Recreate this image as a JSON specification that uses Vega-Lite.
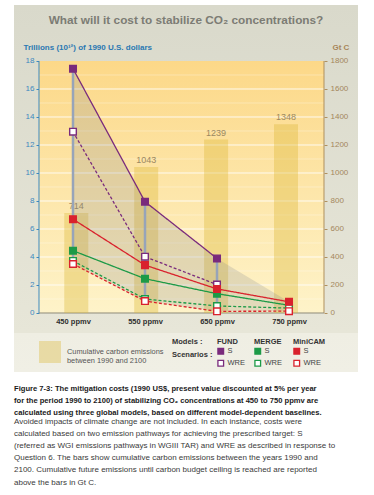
{
  "$schema": "https://vega.github.io/schema/vega-lite/v6.json",
  "padding": {"left": 14, "top": 5, "right": 16, "bottom": 2},
  "background": "#ffffff",
  "config": {"view": {"stroke": null}, "font": "Liberation Sans", "legend": {"padding": 0}},
  "title": {
    "text": [
      "Figure 7-3: The mitigation costs (1990 US$, present value discounted at 5% per year",
      "for the period 1990 to 2100) of stabilizing CO₂ concentrations at 450 to 750 ppmv are",
      "calculated using three global models, based on different model-dependent baselines."
    ],
    "subtitle": [
      "Avoided impacts of climate change are not included. In each instance, costs were",
      "calculated based on two emission pathways for achieving the prescribed target: S",
      "(referred as WGI emissions pathways in WGIII TAR) and WRE as described in response to",
      "Question 6. The bars show cumulative carbon emissions between the years 1990  and",
      "2100. Cumulative future emissions until carbon budget ceiling is reached are reported",
      "above the bars in Gt C."
    ],
    "orient": "bottom", "anchor": "start", "frame": "group", "offset": 13, "baseline": "top",
    "font": "Liberation Sans", "fontSize": 7.6, "fontWeight": "bold", "color": "#1a1a1a", "lineHeight": 12,
    "subtitleFont": "Liberation Sans", "subtitleFontSize": 8, "subtitleColor": "#3a3a3a", "subtitleLineHeight": 12.2, "subtitlePadding": 1
  },
  "spacing": 0,
  "vconcat": [
    {
      "width": 344,
      "height": 367,
      "view": {
        "stroke": null,
        "fill": {"gradient": "linear", "x1": 0, "y1": 0, "x2": 0, "y2": 1, "stops": [
          {"offset": 0, "color": "#d9d9cb"},
          {"offset": 0.893, "color": "#e7e6d8"},
          {"offset": 0.895, "color": "#efeee3"},
          {"offset": 1, "color": "#f0efe5"}
        ]}
      },
      "title": {
        "text": "What will it cost to stabilize CO₂ concentrations?",
        "anchor": "middle", "frame": "group", "offset": -27, "baseline": "middle",
        "font": "Liberation Sans", "fontSize": 11.8, "fontWeight": "bold", "color": "#7c7c74"
      },
      "resolve": {"scale": {"x": "independent", "y": "independent", "fill": "independent"}},
      "layer": [
        {
          "layer": [
            {
              "data": {"values": [{}]},
              "mark": {"type": "rect", "fill": {"gradient": "linear", "x1": 0, "y1": 0, "x2": 0, "y2": 1, "stops": [{"offset": 0, "color": "#fcd888"}, {"offset": 1, "color": "#fef3c9"}]}},
              "encoding": {
                "x": {"datum": 402.8, "type": "quantitative", "scale": {"domain": [368.06, 845.83], "nice": false, "zero": false}, "axis": null},
                "x2": {"datum": 798.6},
                "y": {"datum": 0, "type": "quantitative", "scale": {"domain": [-4.2143, 22], "nice": false, "zero": false}, "axis": null},
                "y2": {"datum": 18}
              }
            },
            {
              "data": {"values": [{"g": 1}, {"g": 3}, {"g": 5}, {"g": 7}, {"g": 9}, {"g": 11}, {"g": 13}, {"g": 15}, {"g": 17}]},
              "mark": {"type": "rule", "color": "#ffffff", "opacity": 0.3, "strokeWidth": 1},
              "encoding": {
                "x": {"datum": 402.8, "type": "quantitative", "scale": {"domain": [368.06, 845.83], "nice": false, "zero": false}, "axis": null},
                "x2": {"datum": 798.6},
                "y": {"field": "g", "type": "quantitative", "scale": {"domain": [-4.2143, 22], "nice": false, "zero": false}, "axis": null}
              }
            },
            {
              "data": {"values": [{"g": 2}, {"g": 4}, {"g": 6}, {"g": 8}, {"g": 10}, {"g": 12}, {"g": 14}, {"g": 16}]},
              "mark": {"type": "rule", "color": "#ffffff", "opacity": 0.85, "strokeWidth": 1},
              "encoding": {
                "x": {"datum": 402.8, "type": "quantitative", "scale": {"domain": [368.06, 845.83], "nice": false, "zero": false}, "axis": null},
                "x2": {"datum": 798.6},
                "y": {"field": "g", "type": "quantitative", "scale": {"domain": [-4.2143, 22], "nice": false, "zero": false}, "axis": null}
              }
            },
            {
              "data": {"values": [{}]},
              "mark": {"type": "rule", "color": "#3b88bf", "strokeWidth": 1},
              "encoding": {
                "x": {"datum": 402.8, "type": "quantitative", "scale": {"domain": [368.06, 845.83], "nice": false, "zero": false}, "axis": null},
                "y": {"datum": 0, "type": "quantitative", "scale": {"domain": [-4.2143, 22], "nice": false, "zero": false}, "axis": null},
                "y2": {"datum": 18}
              }
            },
            {
              "data": {"values": [{}]},
              "mark": {"type": "rule", "color": "#b0905e", "strokeWidth": 1},
              "encoding": {
                "x": {"datum": 798.6, "type": "quantitative", "scale": {"domain": [368.06, 845.83], "nice": false, "zero": false}, "axis": null},
                "y": {"datum": 0, "type": "quantitative", "scale": {"domain": [-4.2143, 22], "nice": false, "zero": false}, "axis": null},
                "y2": {"datum": 18}
              }
            },
            {
              "data": {"values": [{}]},
              "mark": {"type": "rule", "color": "#8e8a7a", "strokeWidth": 1},
              "encoding": {
                "x": {"datum": 402.8, "type": "quantitative", "scale": {"domain": [368.06, 845.83], "nice": false, "zero": false}, "axis": null},
                "x2": {"datum": 798.6},
                "y": {"datum": 0, "type": "quantitative", "scale": {"domain": [-4.2143, 22], "nice": false, "zero": false}, "axis": null}
              }
            }
          ]
        },
        {
          "data": {"values": [
            {"ppmv": 450, "gtc": 714},
            {"ppmv": 550, "gtc": 1043},
            {"ppmv": 650, "gtc": 1239},
            {"ppmv": 750, "gtc": 1348}
          ]},
          "encoding": {
            "x": {"field": "ppmv", "type": "quantitative", "scale": {"domain": [368.06, 845.83], "nice": false, "zero": false}, "axis": null},
            "y": {"field": "gtc", "type": "quantitative", "scale": {"domain": [-421.43, 2200], "nice": false, "zero": false},
              "axis": {"orient": "right", "values": [0, 200, 400, 600, 800, 1000, 1200, 1400, 1600, 1800], "format": "d", "offset": -34, "domain": false, "grid": false,
                "tickColor": "#b0905e", "tickSize": 3, "labelColor": "#a4875c", "labelFont": "Liberation Sans", "labelFontSize": 8, "labelPadding": 3,
                "title": "Gt C", "titleAngle": 0, "titleAlign": "left", "titleBaseline": "alphabetic", "titleX": 8, "titleY": 44,
                "titleFont": "Liberation Sans", "titleFontSize": 8, "titleFontWeight": "bold", "titleColor": "#a8865a"}}
          },
          "layer": [
            {
              "mark": {"type": "bar", "width": 24, "opacity": 0.36},
              "encoding": {
                "y2": {"datum": 0},
                "fill": {"datum": "Cumulative carbon emissions between 1990 and 2100", "type": "nominal", "scale": {"range": ["#dcb836"]},
                  "legend": {"orient": "none", "legendX": 25, "legendY": 336, "title": null, "symbolType": "square", "symbolSize": 484, "symbolOpacity": 0.36, "symbolStrokeWidth": 0,
                    "labelExpr": "['Cumulative carbon emissions', 'between 1990 and 2100']", "labelFont": "Liberation Sans", "labelFontSize": 7.4, "labelColor": "#555555", "labelOffset": 6, "labelLimit": 300,
                    "encode": {"labels": {"update": {"lineHeight": {"value": 8.5}}}}}}
              }
            },
            {
              "mark": {"type": "text", "dy": -2, "baseline": "bottom", "fontSize": 9, "color": "#9a8862", "font": "Liberation Sans"},
              "encoding": {"text": {"field": "gtc", "type": "quantitative", "format": "d"}}
            }
          ]
        },
        {
          "data": {"values": [
            {"model": "FUND", "scenario": "S", "ppmv": 450, "v": 17.45},
            {"model": "FUND", "scenario": "S", "ppmv": 550, "v": 7.95},
            {"model": "FUND", "scenario": "S", "ppmv": 650, "v": 3.9},
            {"model": "FUND", "scenario": "WRE", "ppmv": 450, "v": 12.95},
            {"model": "FUND", "scenario": "WRE", "ppmv": 550, "v": 4.02},
            {"model": "FUND", "scenario": "WRE", "ppmv": 650, "v": 2.03},
            {"model": "MERGE", "scenario": "S", "ppmv": 450, "v": 4.45},
            {"model": "MERGE", "scenario": "S", "ppmv": 550, "v": 2.45},
            {"model": "MERGE", "scenario": "S", "ppmv": 650, "v": 1.38},
            {"model": "MERGE", "scenario": "S", "ppmv": 750, "v": 0.55},
            {"model": "MERGE", "scenario": "WRE", "ppmv": 450, "v": 3.72},
            {"model": "MERGE", "scenario": "WRE", "ppmv": 550, "v": 1.0},
            {"model": "MERGE", "scenario": "WRE", "ppmv": 650, "v": 0.5},
            {"model": "MERGE", "scenario": "WRE", "ppmv": 750, "v": 0.35},
            {"model": "MiniCAM", "scenario": "S", "ppmv": 450, "v": 6.7},
            {"model": "MiniCAM", "scenario": "S", "ppmv": 550, "v": 3.42},
            {"model": "MiniCAM", "scenario": "S", "ppmv": 650, "v": 1.72},
            {"model": "MiniCAM", "scenario": "S", "ppmv": 750, "v": 0.8},
            {"model": "MiniCAM", "scenario": "WRE", "ppmv": 450, "v": 3.5},
            {"model": "MiniCAM", "scenario": "WRE", "ppmv": 550, "v": 0.85},
            {"model": "MiniCAM", "scenario": "WRE", "ppmv": 650, "v": 0.12},
            {"model": "MiniCAM", "scenario": "WRE", "ppmv": 750, "v": 0.13}
          ]},
          "encoding": {
            "x": {"field": "ppmv", "type": "quantitative", "scale": {"domain": [368.06, 845.83], "nice": false, "zero": false},
              "axis": {"orient": "bottom", "values": [450, 550, 650, 750], "labelExpr": "datum.value + ' ppmv'", "title": null, "ticks": false, "tickSize": 0, "domain": false, "grid": false,
                "offset": -59, "labelFont": "Liberation Sans", "labelFontWeight": "bold", "labelFontSize": 7.5, "labelColor": "#2e2e2e", "labelPadding": 4}},
            "y": {"field": "v", "type": "quantitative", "scale": {"domain": [-4.2143, 22], "nice": false, "zero": false},
              "axis": {"orient": "left", "values": [0, 2, 4, 6, 8, 10, 12, 14, 16, 18], "offset": -25, "domain": false, "grid": false,
                "tickColor": "#3b88bf", "tickSize": 3, "labelColor": "#3b88bf", "labelFont": "Liberation Sans", "labelFontSize": 8, "labelPadding": 2,
                "title": "Trillions (10¹²) of 1990 U.S. dollars", "titleAngle": 0, "titleAlign": "left", "titleBaseline": "alphabetic", "titleX": -16, "titleY": 44,
                "titleFont": "Liberation Sans", "titleFontSize": 8, "titleFontWeight": "bold", "titleColor": "#2a78b2"}}
          },
          "resolve": {"scale": {"fill": "independent"}},
          "layer": [
            {
              "transform": [{"aggregate": [{"op": "max", "field": "v", "as": "v"}, {"op": "min", "field": "v", "as": "lo"}], "groupby": ["ppmv"]}],
              "mark": {"type": "area", "opacity": 0.22, "interpolate": "linear"},
              "encoding": {
                "y2": {"field": "lo"},
                "fill": {"datum": "range", "type": "nominal", "scale": {"range": ["#80848c"]},
                  "legend": {"orient": "none", "legendX": 158, "legendY": 333, "title": ["Models :", "Scenarios :"], "titleFont": "Liberation Sans", "titleFontSize": 7.5,
                    "titleFontWeight": "bold", "titleColor": "#333333", "titleLineHeight": 13, "titlePadding": 0, "symbolOpacity": 0, "symbolSize": 1, "labelExpr": "''"}}
              }
            },
            {
              "transform": [{"aggregate": [{"op": "max", "field": "v", "as": "v"}, {"op": "min", "field": "v", "as": "lo"}], "groupby": ["ppmv"]}],
              "mark": {"type": "rule", "color": "#97a4b9", "strokeWidth": 2.5},
              "encoding": {"y2": {"field": "lo"}}
            },
            {
              "mark": {"type": "line", "strokeWidth": 1.3},
              "encoding": {
                "stroke": {"field": "model", "type": "nominal", "scale": {"domain": ["FUND", "MERGE", "MiniCAM"], "range": ["#7a2b7c", "#1d9a47", "#d9222d"]}, "legend": null},
                "strokeDash": {"field": "scenario", "type": "nominal", "scale": {"domain": ["S", "WRE"], "range": [[1, 0], [3, 2]]}, "legend": null}
              }
            },
            {
              "transform": [{"filter": "datum.model == 'FUND'"}],
              "mark": {"type": "square", "size": 44, "stroke": "#7a2b7c", "strokeWidth": 1.4, "opacity": 1},
              "encoding": {
                "fill": {"field": "scenario", "type": "nominal", "scale": {"domain": ["S", "WRE"], "range": ["#7a2b7c", "#ffffff"]},
                  "legend": {"orient": "none", "legendX": 203, "legendY": 333, "title": "FUND", "titleFont": "Liberation Sans", "titleFontSize": 7.5, "titleFontWeight": "bold", "titleColor": "#333333", "titlePadding": 2,
                    "symbolType": "square", "symbolSize": 32, "symbolStrokeColor": "#7a2b7c", "symbolStrokeWidth": 1.3, "labelFont": "Liberation Sans", "labelFontSize": 7.5, "labelColor": "#444444", "labelOffset": 3, "rowPadding": 0}}
              }
            },
            {
              "transform": [{"filter": "datum.model == 'MERGE'"}],
              "mark": {"type": "square", "size": 44, "stroke": "#1d9a47", "strokeWidth": 1.4, "opacity": 1},
              "encoding": {
                "fill": {"field": "scenario", "type": "nominal", "scale": {"domain": ["S", "WRE"], "range": ["#1d9a47", "#ffffff"]},
                  "legend": {"orient": "none", "legendX": 240, "legendY": 333, "title": "MERGE", "titleFont": "Liberation Sans", "titleFontSize": 7.5, "titleFontWeight": "bold", "titleColor": "#333333", "titlePadding": 2,
                    "symbolType": "square", "symbolSize": 32, "symbolStrokeColor": "#1d9a47", "symbolStrokeWidth": 1.3, "labelFont": "Liberation Sans", "labelFontSize": 7.5, "labelColor": "#444444", "labelOffset": 3, "rowPadding": 0}}
              }
            },
            {
              "transform": [{"filter": "datum.model == 'MiniCAM'"}],
              "mark": {"type": "square", "size": 44, "stroke": "#d9222d", "strokeWidth": 1.4, "opacity": 1},
              "encoding": {
                "fill": {"field": "scenario", "type": "nominal", "scale": {"domain": ["S", "WRE"], "range": ["#d9222d", "#ffffff"]},
                  "legend": {"orient": "none", "legendX": 279, "legendY": 333, "title": "MiniCAM", "titleFont": "Liberation Sans", "titleFontSize": 7.5, "titleFontWeight": "bold", "titleColor": "#333333", "titlePadding": 2,
                    "symbolType": "square", "symbolSize": 32, "symbolStrokeColor": "#d9222d", "symbolStrokeWidth": 1.3, "labelFont": "Liberation Sans", "labelFontSize": 7.5, "labelColor": "#444444", "labelOffset": 3, "rowPadding": 0}}
              }
            }
          ]
        }
      ]
    }
  ]
}
